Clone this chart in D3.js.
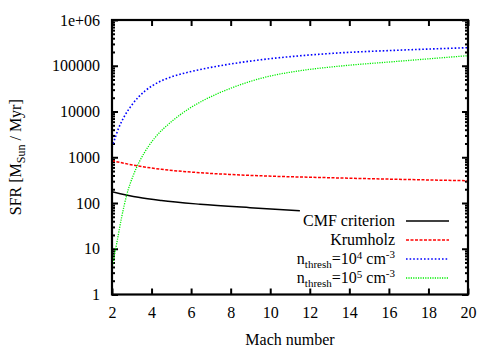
<!DOCTYPE html>
<html><head><meta charset="utf-8">
<script src="https://cdn.jsdelivr.net/npm/d3@7"></script>
<style>body{margin:0;background:#fff}svg{display:block}
svg text{font-family:'Liberation Serif','Times New Roman',Times,'Tinos','Noto Serif','DejaVu Serif',serif !important}</style>
</head><body>
<script>
const xTicks = [2,4,6,8,10,12,14,16,18,20];
const yTicks = [1,10,100,1000,10000,100000,1000000];
const yTickLabels = ["1","10","100","1000","10000","100000","1e+06"];

const cmfMach = [2, 3.33, 4.5, 6.45, 8.98, 11.5];
const cmfSFR  = [177, 133, 113, 94, 79, 68];

const krumMach = [2, 3.33, 4.5, 6.45, 8.0, 9.82, 13.0, 16.4, 20];
const krumSFR  = [840, 644, 545, 459, 420, 389, 357, 330, 307];

const n4Mach = [2, 2.07, 2.32, 2.66, 3.0, 3.67, 4.34, 5.02, 5.86, 6.62, 8.13, 9.82, 11.5, 13.5, 16.4, 20];
const n4SFR  = [1660, 2040, 4170, 8320, 13830, 28100, 43400, 57400, 72400, 85500, 111700, 140000, 165000, 191000, 218000, 248000];

const n5Mach = [2, 2.24, 2.49, 2.74, 3.08, 3.42, 3.84, 4.17, 5.02, 5.86, 6.62, 8.13, 9.82, 11.5, 13.5, 16.4, 20];
const n5SFR  = [3.8, 13.2, 49.5, 148, 407, 857, 1718, 2667, 6070, 11270, 17460, 33800, 57200, 77800, 98000, 124500, 166000];

const W = 500, H = 350;
const m = {left:112, right:32, top:20, bottom:55.5};
const FONT = "Liberation Serif, Times New Roman, Times, serif";
const svg = d3.select("body").append("svg").attr("width",W).attr("height",H);
const x = d3.scaleLinear().domain([2,20]).range([m.left, W-m.right]);
const y = d3.scaleLog().domain([1,1e6]).range([H-m.bottom, m.top]);

const minor = [];
for (let e=0;e<6;e++) for (let k=2;k<10;k++) minor.push(k*Math.pow(10,e));

function styleAxis(g){ g.attr("font-family",FONT).attr("font-size",16); g.select(".domain").remove(); g.selectAll("line").attr("stroke","#000").attr("stroke-width",2); g.selectAll("text").attr("fill","#000"); }

svg.append("g").attr("transform",`translate(${m.left},0)`)
  .call(d3.axisLeft(y).tickValues(yTicks).tickFormat((d,i)=>yTickLabels[i]).tickSize(-6).tickPadding(12)).call(styleAxis);
svg.append("g").attr("transform",`translate(${m.left},0)`)
  .call(d3.axisLeft(y).tickValues(minor).tickFormat("").tickSize(-3)).call(styleAxis);
svg.append("g").attr("transform",`translate(${W-m.right},0)`)
  .call(d3.axisRight(y).tickValues(yTicks).tickFormat("").tickSize(-6)).call(styleAxis);
svg.append("g").attr("transform",`translate(${W-m.right},0)`)
  .call(d3.axisRight(y).tickValues(minor).tickFormat("").tickSize(-3)).call(styleAxis);
svg.append("g").attr("transform",`translate(0,${H-m.bottom})`)
  .call(d3.axisBottom(x).tickValues(xTicks).tickFormat(d3.format("d")).tickSize(-6).tickPadding(12.5)).call(styleAxis);
svg.append("g").attr("transform",`translate(0,${m.top})`)
  .call(d3.axisTop(x).tickValues(xTicks).tickFormat("").tickSize(-6)).call(styleAxis);

svg.append("clipPath").attr("id","c").append("rect")
  .attr("x",m.left).attr("y",m.top).attr("width",W-m.left-m.right).attr("height",H-m.top-m.bottom);

const line = d3.line().x(d=>x(d[0])).y(d=>y(d[1])).curve(d3.curveMonotoneX);
const series = [
  {mx:cmfMach, v:cmfSFR, color:"#000", dash:null, w:1.5},
  {mx:krumMach, v:krumSFR, color:"#ff0000", dash:"3,1.5", w:1.5},
  {mx:n4Mach, v:n4SFR, color:"#0000ff", dash:"1.6,2", w:1.6},
  {mx:n5Mach, v:n5SFR, color:"#00ee00", dash:"1.2,1.2", w:1.3}
];
const pg = svg.append("g").attr("clip-path","url(#c)");
series.forEach(s=>{
  pg.append("path").datum(s.mx.map((d,i)=>[d,s.v[i]])).attr("d",line)
    .attr("fill","none").attr("stroke",s.color).attr("stroke-width",s.w)
    .attr("stroke-dasharray",s.dash);
});

svg.append("rect").attr("x",m.left).attr("y",m.top).attr("width",W-m.left-m.right).attr("height",H-m.top-m.bottom)
  .attr("fill","none").attr("stroke","#000").attr("stroke-width",2.2);

// axis titles
svg.append("text").attr("font-family",FONT).attr("x",(m.left+W-m.right)/2).attr("y",344.5).attr("text-anchor","middle").attr("font-size",16).text("Mach number");
const yt = svg.append("text").attr("font-family",FONT).attr("transform",`translate(21,${(m.top+H-m.bottom)/2}) rotate(-90)`).attr("text-anchor","middle").attr("font-size",16);
yt.append("tspan").text("SFR [M");
yt.append("tspan").attr("font-size",12).attr("dy",4).text("Sun");
yt.append("tspan").attr("dy",-4).text(" / Myr]");

// legend
const legY = [221, 240, 259, 278];
const legX = 395;
function addLegText(i, parts){
  const t = svg.append("text").attr("font-family",FONT).attr("x",legX).attr("y",legY[i]+5).attr("text-anchor","end").attr("font-size",16);
  parts.forEach(p=>{ const ts=t.append("tspan").text(p.t); if(p.fs) ts.attr("font-size",p.fs); if(p.dy) ts.attr("dy",p.dy); });
}
addLegText(0,[{t:"CMF criterion"}]);
addLegText(1,[{t:"Krumholz"}]);
addLegText(2,[{t:"n"},{t:"thresh",fs:11,dy:4},{t:"=10",dy:-4},{t:"4",fs:11,dy:-5},{t:" cm",dy:5},{t:"-3",fs:11,dy:-6}]);
addLegText(3,[{t:"n"},{t:"thresh",fs:11,dy:4},{t:"=10",dy:-4},{t:"5",fs:11,dy:-5},{t:" cm",dy:5},{t:"-3",fs:11,dy:-6}]);
series.forEach((s,i)=>{
  svg.append("line").attr("x1",406).attr("x2",449).attr("y1",legY[i]).attr("y2",legY[i])
    .attr("stroke",s.color).attr("stroke-width",s.w).attr("stroke-dasharray",s.dash);
});
</script>
</body></html>
